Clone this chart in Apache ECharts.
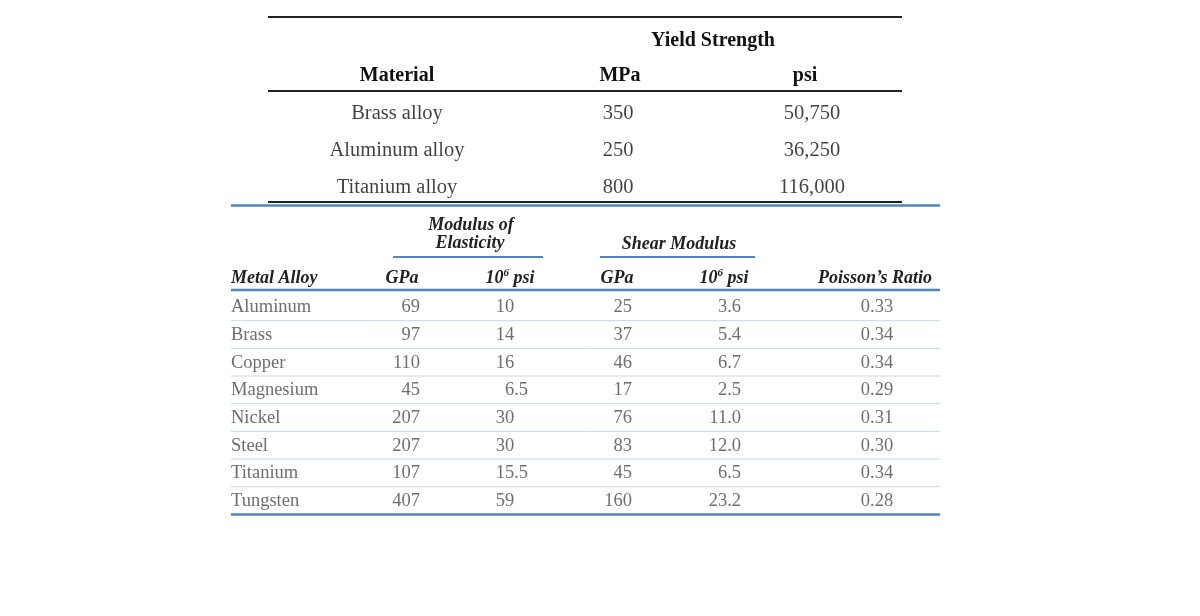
<!DOCTYPE html>
<html>
<head>
<meta charset="utf-8">
<title>Alloy properties</title>
<script src="https://cdn.jsdelivr.net/npm/echarts@6/dist/echarts.min.js"></script>
<style>
  html, body { margin: 0; background: #fff; }
  #chart { width: 1200px; height: 616px; }
</style>
</head>
<body>
<div id="chart"></div>
<script>
// upper table - yield strength
const materials = ['Brass alloy', 'Aluminum alloy', 'Titanium alloy'];
const yieldMPa = [350, 250, 800];
const yieldPsi = [50750, 36250, 116000];

// lower table - elastic properties
const alloys = ['Aluminum', 'Brass', 'Copper', 'Magnesium', 'Nickel', 'Steel', 'Titanium', 'Tungsten'];
const elasticGPa = [69, 97, 110, 45, 207, 207, 107, 407];
const elasticPsi = [10, 14, 16, 6.5, 30, 30, 15.5, 59];
const shearGPa = [25, 37, 46, 17, 76, 83, 45, 160];
const shearPsi = [3.6, 5.4, 6.7, 2.5, 11.0, 12.0, 6.5, 23.2];
const poisson = [0.33, 0.34, 0.34, 0.29, 0.31, 0.30, 0.34, 0.28];

const SERIF = '"Liberation Serif", "DejaVu Serif", serif';
const BLUE = '#4f86bd';
const LIGHT_BLUE = '#c3d8ec';

// row layout of the lower table
const lowTop = 293;
const rowH = 27.675;

const chart = echarts.init(document.getElementById('chart'));

// one column of cells, placed on a hidden grid
function column(grid, x, texts, align, color, fontSize, rich) {
  return {
    type: 'scatter',
    xAxisIndex: grid,
    yAxisIndex: grid,
    symbolSize: 1,
    silent: true,
    itemStyle: { color: 'transparent' },
    data: texts.map((t, i) => ({ name: t, value: [x, i] })),
    label: {
      show: true,
      position: 'inside',
      align: align,
      verticalAlign: 'middle',
      color: color,
      fontFamily: SERIF,
      fontSize: fontSize,
      formatter: rich ? rich.fmt : '{b}',
      rich: rich ? rich.styles : undefined
    }
  };
}

const hline = (x1, x2, y, color, w) => ({
  type: 'line', silent: true,
  shape: { x1: x1, y1: y, x2: x2, y2: y },
  style: { stroke: color, lineWidth: w }
});

const htext = (text, x, y, font, color, align, rich) => ({
  type: 'text', silent: true, x: x, y: y,
  style: {
    text: text, font: font, fill: color,
    align: align || 'center', verticalAlign: 'middle', rich: rich
  }
});

const supRich = {
  n: { fontFamily: SERIF, fontSize: 18, fontWeight: 'bold', fontStyle: 'italic', color: '#222', lineHeight: 20 },
  s: { fontFamily: SERIF, fontSize: 11, fontWeight: 'bold', fontStyle: 'italic', color: '#222', lineHeight: 12, verticalAlign: 'top' }
};

const graphics = [
  // upper table rules
  hline(268, 902, 17, '#222', 2),
  hline(268, 902, 91, '#222', 2),
  hline(268, 902, 202, '#222', 2),
  // upper headers
  htext('Yield Strength', 713, 40.5, 'bold 20px ' + SERIF, '#111'),
  htext('Material', 397, 75.5, 'bold 20px ' + SERIF, '#111'),
  htext('MPa', 620, 75.5, 'bold 20px ' + SERIF, '#111'),
  htext('psi', 805, 75.5, 'bold 20px ' + SERIF, '#111'),
  // lower table rules
  hline(231, 940, 205.5, BLUE, 2.5),
  hline(231, 940, 290, BLUE, 2.5),
  hline(231, 940, lowTop + rowH * alloys.length, BLUE, 2.5),
  hline(393, 543, 257, BLUE, 2),
  hline(600, 755, 257, BLUE, 2),
  // lower headers
  htext('Modulus of', 471, 225, 'bold italic 18px ' + SERIF, '#222'),
  htext('Elasticity', 470, 243, 'bold italic 18px ' + SERIF, '#222'),
  htext('Shear Modulus', 679, 244, 'bold italic 18px ' + SERIF, '#222'),
  htext('Metal Alloy', 231, 278, 'bold italic 18px ' + SERIF, '#222', 'left'),
  htext('GPa', 402, 278, 'bold italic 18px ' + SERIF, '#222'),
  htext('{n|10}{s|6}{n| psi}', 510, 278, 'bold italic 18px ' + SERIF, '#222', 'center', supRich),
  htext('GPa', 617, 278, 'bold italic 18px ' + SERIF, '#222'),
  htext('{n|10}{s|6}{n| psi}', 724, 278, 'bold italic 18px ' + SERIF, '#222', 'center', supRich),
  htext("Poisson\u2019s Ratio", 875, 278, 'bold italic 18px ' + SERIF, '#222')
];
// faint row separators
for (let i = 1; i < alloys.length; i++) {
  graphics.push(hline(231, 940, lowTop + rowH * i, LIGHT_BLUE, 1));
}

// keep decimals lined up in the 10^6 psi column of elasticity
const decimalAlign = {
  fmt: p => String(p.name).includes('.') ? '{v|' + p.name + '}' : '{v|' + p.name + '}{h|.5}',
  styles: {
    v: { fontFamily: SERIF, fontSize: 18.5, color: '#4a4a4a' },
    h: { fontFamily: SERIF, fontSize: 18.5, color: 'transparent' }
  }
};

const option = {
  animation: false,
  backgroundColor: '#fff',
  grid: [
    { left: 0, right: 0, top: 95.5, height: 110 },
    { left: 0, right: 0, top: lowTop + 0.7, height: rowH * alloys.length }
  ],
  xAxis: [
    { type: 'value', gridIndex: 0, min: 0, max: 1200, show: false },
    { type: 'value', gridIndex: 1, min: 0, max: 1200, show: false }
  ],
  yAxis: [
    { type: 'category', gridIndex: 0, data: materials, inverse: true, show: false },
    { type: 'category', gridIndex: 1, data: alloys, inverse: true, show: false }
  ],
  graphic: graphics,
  series: [
    column(0, 397, materials, 'center', '#111', 20.5),
    column(0, 618, yieldMPa.map(String), 'center', '#111', 20.5),
    column(0, 812, yieldPsi.map(v => v.toLocaleString('en-US')), 'center', '#111', 20.5),

    column(1, 231, alloys, 'left', '#4a4a4a', 18.5),
    column(1, 420, elasticGPa.map(String), 'right', '#4a4a4a', 18.5),
    column(1, 528, elasticPsi.map(String), 'right', '#4a4a4a', 18.5, decimalAlign),
    column(1, 632, shearGPa.map(String), 'right', '#4a4a4a', 18.5),
    column(1, 741, shearPsi.map(v => v.toFixed(1)), 'right', '#4a4a4a', 18.5),
    column(1, 877, poisson.map(v => v.toFixed(2)), 'center', '#4a4a4a', 18.5)
  ]
};

chart.setOption(option);
</script>
</body>
</html>
